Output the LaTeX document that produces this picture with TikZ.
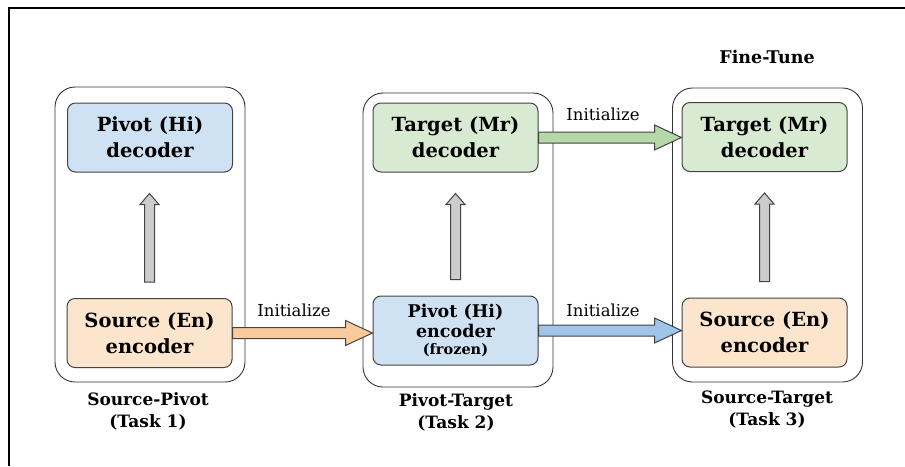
\documentclass[tikz,border=0pt]{standalone}
\usepackage{fontspec}
\setmainfont{DejaVu Serif}
\usetikzlibrary{calc}
\definecolor{bluebox}{HTML}{CFE2F3}
\definecolor{greenbox}{HTML}{D9EAD3}
\definecolor{orangebox}{HTML}{FCE5CD}
\definecolor{bluearr}{HTML}{9FC5E8}
\definecolor{greenarr}{HTML}{B6D7A8}
\definecolor{orangearr}{HTML}{F9CB9C}
\definecolor{grayarr}{HTML}{CCCCCC}
\definecolor{edge}{HTML}{434343}
\tikzset{
  panel/.style={draw=black!80, line width=0.9pt, rounded corners=20pt, minimum width=190pt, minimum height=294pt},
  modbox/.style={draw=edge, line width=1pt, rounded corners=8pt, minimum width=165pt, minimum height=69pt,
     inner sep=2pt, align=center, font=\fontsize{19.5}{26}\selectfont\bfseries},
  tasklabel/.style={align=center, font=\fontsize{17}{22}\selectfont\bfseries},
  initlabel/.style={font=\fontsize{16.5}{18}\selectfont},
  fatarrow/.style={draw=edge, line width=1pt, line join=miter},
}
\newcommand\hfat[3]{%
  \draw[fatarrow, fill=#3] let \p1=(#1), \p2=(#2) in
    (\x1,\y1+5.5pt) -- (\x2-27pt,\y1+5.5pt) -- (\x2-27pt,\y1+12.5pt) -- (\x2,\y1)
    -- (\x2-27pt,\y1-12.5pt) -- (\x2-27pt,\y1-5.5pt) -- (\x1,\y1-5.5pt) -- cycle;}
\newcommand\vfat[2]{%
  \draw[fatarrow, fill=grayarr] let \p1=(#1), \p2=(#2) in
    (\x1-5pt,\y1+16pt) -- (\x1-5pt,\y2-32pt) -- (\x1-9.5pt,\y2-32pt) -- (\x1,\y2-21pt)
    -- (\x1+9.5pt,\y2-32pt) -- (\x1+5pt,\y2-32pt) -- (\x1+5pt,\y1+16pt) -- cycle;}
\begin{document}
\begin{tikzpicture}[x=1pt, y=-1pt]
\useasboundingbox (0,0) rectangle (905,466);
\draw[line width=1.2pt] (9,466) -- (9,8) -- (905,8);

% panels
\node[panel, minimum height=295pt] (P1) at (150,234.5) {};
\node[panel] (P2) at (458,240) {};
\node[panel] (P3) at (767.5,235) {};

% boxes
\node[modbox, fill=bluebox] (D1) at (150,137.5) {Pivot (Hi)\\decoder};
\node[modbox, fill=orangebox] (E1) at (149.5,333) {Source (En)\\encoder};
\node[modbox, fill=greenbox] (D2) at (455.5,137.5) {Target (Mr)\\decoder};
\node[modbox, fill=bluebox, font=\fontsize{17.5}{20}\selectfont\bfseries] (E2) at (455.5,330.5)
  {Pivot (Hi)\\encoder\\[-2.5pt]{\fontsize{14.5}{15}\selectfont(frozen)}};
\node[modbox, fill=greenbox] (D3) at (764.5,137) {Target (Mr)\\decoder};
\node[modbox, fill=orangebox] (E3) at (764.5,332.5) {Source (En)\\encoder};

% vertical arrows
\vfat{E1.north}{D1.south}
\vfat{E2.north}{D2.south}
\vfat{E3.north}{D3.south}

% horizontal arrows
\hfat{E1.east}{E2.west}{orangearr}
\hfat{D2.east}{D3.west}{greenarr}
\hfat{E2.east}{E3.west}{bluearr}

% labels
\node[initlabel] (I1) at (294,310) {Initialize};
\node[initlabel] (I2) at (603,114) {Initialize};
\node[initlabel] (I3) at (603,310) {Initialize};
\node[tasklabel] (T1) at (148,411) {Source-Pivot\\(Task 1)};
\node[tasklabel] (T2) at (456,412) {Pivot-Target\\(Task 2)};
\node[tasklabel] (T3) at (767,410) {Source-Target\\(Task 3)};
\node[tasklabel, font=\fontsize{17.5}{20}\selectfont\bfseries] (FT) at (767,57) {Fine-Tune};
\end{tikzpicture}
\end{document}
